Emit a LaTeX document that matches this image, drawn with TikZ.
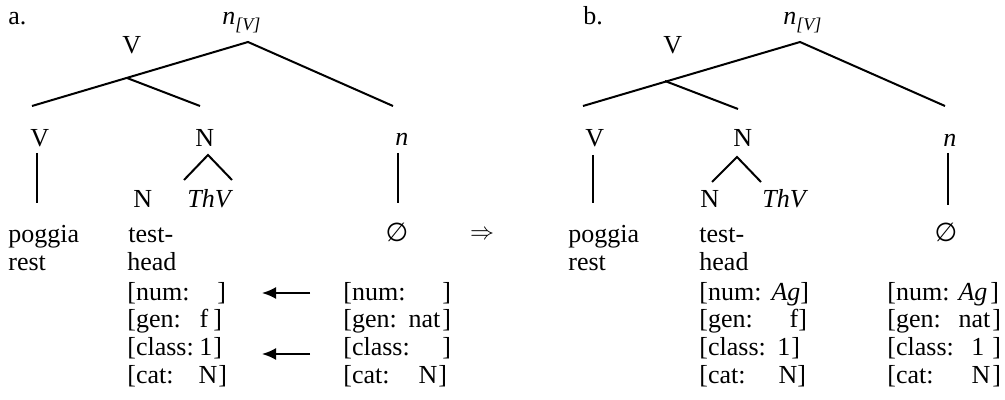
\documentclass[tikz,border=0pt]{standalone}
\usepackage{fontspec}
\setmainfont{Liberation Serif}
\newfontfamily\dvsans{DejaVu Sans}
\usetikzlibrary{arrows.meta}
\newdimen\pxu \pxu=0.5pt
% label, value end offset, value, bracket start offset
\newcommand\frow[4]{\rlap{#1}\hspace*{#2\pxu}\llap{#3}\hspace*{\numexpr#4-#2\relax\pxu}]}
\begin{document}
\begin{tikzpicture}[x=0.5pt,y=-0.5pt,
  font=\fontsize{13pt}{14pt}\selectfont,
  lbl/.style={inner sep=0pt,anchor=base west},
  branch/.style={line width=1pt},
  feat/.style={inner sep=0pt,anchor=base west},
  agree/.style={line width=1pt,-{Latex[length=7pt,width=6pt]}}]
\useasboundingbox (0,0) rectangle (1005,400);
% ---------- tree a ----------
\node[lbl] (la) at (8,25) {a.};
\node[lbl] (rootlabA) at (222,25) {\textit{n}\raisebox{-0.5ex}{\fontsize{9pt}{9pt}\selectfont\itshape [V]}};
\coordinate (rootA) at (248,42);
\coordinate (leftA) at (32,106);
\coordinate (rightA) at (393,106);
\coordinate (vA) at (127,78);
\coordinate (vAr) at (200,106);
\draw[branch] (leftA) -- (rootA) -- (rightA);
\draw[branch] (vA) -- (vAr);
\node[lbl] (vmidA) at (122,54) {V};
\node[lbl] (VA) at (30,147) {V};
\node[lbl] (NA) at (195,147) {N};
\node[lbl] (nA) at (395,146) {\textit{n}};
\coordinate (VAt) at (37,153); \coordinate (VAb) at (37,203);
\draw[branch] (VAt) -- (VAb);
\coordinate (NAap) at (208,155); \coordinate (NAl) at (184,180); \coordinate (NAr) at (232,180);
\draw[branch] (NAl) -- (NAap) -- (NAr);
\coordinate (nAt) at (398,153); \coordinate (nAb) at (398,203);
\draw[branch] (nAt) -- (nAb);
\node[lbl] (NsA) at (133,208) {N};
\node[lbl] (ThVA) at (187,208) {\textit{ThV}};
\node[lbl] (pogA) at (8,243) {poggia};
\node[lbl] (restA) at (8,271) {rest};
\node[lbl] (testA) at (128,243) {test-};
\node[lbl] (headA) at (127,271) {head};
\node[inner sep=0pt,anchor=base] (nullA) at (397,242) {\dvsans ∅};
\node[inner sep=0pt] (impl) at (482,235) {$\Rightarrow$};
% features a, left
\node[feat] (fA1) at (127,300) {\frow{[num:}{0}{}{90}};
\node[feat] (fA2) at (127,328) {\frow{[gen:}{81}{f}{86}};
\node[feat] (fA3) at (127,355) {\frow{[class:}{85}{1}{86}};
\node[feat] (fA4) at (127,383) {\frow{[cat:}{90}{N}{91}};
% features a, right
\node[feat] (gA1) at (343,300) {\frow{[num:}{0}{}{99}};
\node[feat] (gA2) at (343,328) {\frow{[gen:}{97}{nat}{99}};
\node[feat] (gA3) at (343,355) {\frow{[class:}{0}{}{99}};
\node[feat] (gA4) at (343,383) {\frow{[cat:}{94}{N}{95}};
\coordinate (a1s) at (310,293); \coordinate (a1e) at (262,293);
\coordinate (a2s) at (310,354); \coordinate (a2e) at (262,354);
\draw[agree] (a1s) -- (a1e);
\draw[agree] (a2s) -- (a2e);
% ---------- tree b ----------
\node[lbl] (lb) at (583,25) {b.};
\node[lbl] (rootlabB) at (783,25) {\textit{n}\raisebox{-0.5ex}{\fontsize{9pt}{9pt}\selectfont\itshape [V]}};
\coordinate (rootB) at (800,42);
\coordinate (leftB) at (583,106);
\coordinate (rightB) at (945,106);
\coordinate (vB) at (665,81);
\coordinate (vBr) at (738,109);
\draw[branch] (leftB) -- (rootB) -- (rightB);
\draw[branch] (vB) -- (vBr);
\node[lbl] (vmidB) at (663,54) {V};
\node[lbl] (VB) at (585,147) {V};
\node[lbl] (NB) at (733,147) {N};
\node[lbl] (nB) at (943,147) {\textit{n}};
\coordinate (VBt) at (593,155); \coordinate (VBb) at (593,203);
\draw[branch] (VBt) -- (VBb);
\coordinate (NBap) at (737,157); \coordinate (NBl) at (712,182); \coordinate (NBr) at (761,182);
\draw[branch] (NBl) -- (NBap) -- (NBr);
\coordinate (nBt) at (948,153); \coordinate (nBb) at (948,205);
\draw[branch] (nBt) -- (nBb);
\node[lbl] (NsB) at (700,208) {N};
\node[lbl] (ThVB) at (762,208) {\textit{ThV}};
\node[lbl] (pogB) at (568,243) {poggia};
\node[lbl] (restB) at (568,271) {rest};
\node[lbl] (testB) at (699,243) {test-};
\node[lbl] (headB) at (699,271) {head};
\node[inner sep=0pt,anchor=base] (nullB) at (946,242) {\dvsans ∅};
% features b, left
\node[feat] (fB1) at (699,300) {\frow{[num:}{101}{\textit{Ag}}{101}};
\node[feat] (fB2) at (699,328) {\frow{[gen:}{99}{f}{99}};
\node[feat] (fB3) at (699,355) {\frow{[class:}{91}{1}{92}};
\node[feat] (fB4) at (699,383) {\frow{[cat:}{98}{N}{98}};
% features b, right
\node[feat] (gB1) at (887,300) {\frow{[num:}{100}{\textit{Ag}}{103}};
\node[feat] (gB2) at (887,328) {\frow{[gen:}{103}{nat}{105}};
\node[feat] (gB3) at (887,355) {\frow{[class:}{97}{1}{105}};
\node[feat] (gB4) at (887,383) {\frow{[cat:}{103}{N}{105}};
\end{tikzpicture}
\end{document}
